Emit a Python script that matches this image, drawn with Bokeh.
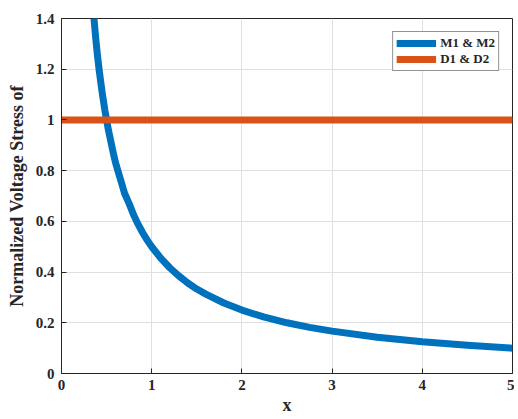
from bokeh.plotting import figure
from bokeh.models import Range1d, FixedTicker, Legend, LegendItem
from bokeh.embed import file_html
from bokeh.resources import INLINE

# Data
m_x = [0.36, 0.38, 0.40, 0.42, 0.45, 0.48, 0.50, 0.52, 0.55, 0.58, 0.60, 0.65,
       0.70, 0.75, 0.80, 0.85, 0.90, 0.95, 1.00, 1.10, 1.20, 1.30, 1.40, 1.50,
       1.60, 1.80, 2.00, 2.25, 2.50, 2.75, 3.00, 3.50, 4.00, 4.50, 5.00]
m_y = [1.40, 1.32, 1.25, 1.19, 1.11, 1.04, 1.00, 0.96, 0.91, 0.86, 0.83, 0.77,
       0.71, 0.67, 0.625, 0.588, 0.555, 0.526, 0.50, 0.455, 0.417, 0.385, 0.357, 0.333,
       0.313, 0.278, 0.25, 0.222, 0.20, 0.182, 0.167, 0.143, 0.125, 0.111, 0.10]
d_x = [0, 5]
d_y = [1, 1]
series_labels = ["M1 & M2", "D1 & D2"]
x_ticks = [0, 1, 2, 3, 4, 5]
y_ticks = [0, 0.2, 0.4, 0.6, 0.8, 1.0, 1.2, 1.4]
y_tick_labels = ["0", "0.2", "0.4", "0.6", "0.8", "1", "1.2", "1.4"]
x_label = "x"
y_label = "Normalized Voltage Stress of"

FONT = "Liberation Serif"
BLUE = "#0072BD"
ORANGE = "#D95319"

p = figure(width=514, height=418, output_backend="svg", toolbar_location=None,
           x_range=Range1d(0, 5), y_range=Range1d(0, 1.4),
           min_border_left=61, min_border_top=18, min_border_right=2, min_border_bottom=45)
p.background_fill_color = "white"
p.border_fill_color = "white"
p.outline_line_color = "#262626"
p.outline_line_width = 1

r1 = p.line(m_x, m_y, line_color=BLUE, line_width=7, line_join="round")
r2 = p.line(d_x, d_y, line_color=ORANGE, line_width=7)

for ax in p.xaxis + p.yaxis:
    ax.axis_line_color = "#262626"
    ax.major_tick_line_color = "#262626"
    ax.major_tick_in = 5
    ax.major_tick_out = 0
    ax.minor_tick_line_color = None
    ax.major_label_text_font = FONT
    ax.major_label_text_font_style = "bold"
    ax.major_label_text_font_size = "15px"
    ax.major_label_text_color = "#262626"
    ax.axis_label_text_font = FONT
    ax.axis_label_text_font_style = "bold"
    ax.axis_label_text_font_size = "18px"
    ax.axis_label_text_color = "#262626"

p.xaxis.ticker = FixedTicker(ticks=x_ticks)
p.yaxis.ticker = FixedTicker(ticks=y_ticks)
p.yaxis.major_label_overrides = {t: s for t, s in zip(y_ticks, y_tick_labels)}
p.xaxis.axis_label = x_label
p.yaxis.axis_label = y_label
p.xaxis.major_label_standoff = 6
p.yaxis.major_label_standoff = 7
p.xaxis.axis_label_standoff = 2
p.yaxis.axis_label_standoff = 6

p.xgrid.ticker = FixedTicker(ticks=x_ticks)
p.ygrid.ticker = FixedTicker(ticks=y_ticks)
p.grid.grid_line_color = "#e0e0e0"
p.grid.grid_line_width = 1

legend = Legend(items=[LegendItem(label=series_labels[0], renderers=[r1]),
                       LegendItem(label=series_labels[1], renderers=[r2])],
                location="top_right")
legend.margin = 13
legend.padding = 3
legend.spacing = 0
legend.glyph_width = 40
legend.glyph_height = 16
legend.label_height = 16
legend.label_standoff = 4
legend.label_text_font = FONT
legend.label_text_font_style = "bold"
legend.label_text_font_size = "13px"
legend.label_text_color = "#262626"
legend.border_line_color = "#262626"
legend.border_line_width = 1
legend.background_fill_color = "white"
legend.background_fill_alpha = 1
p.add_layout(legend)

open("out.html", "w").write(file_html(p, INLINE))
